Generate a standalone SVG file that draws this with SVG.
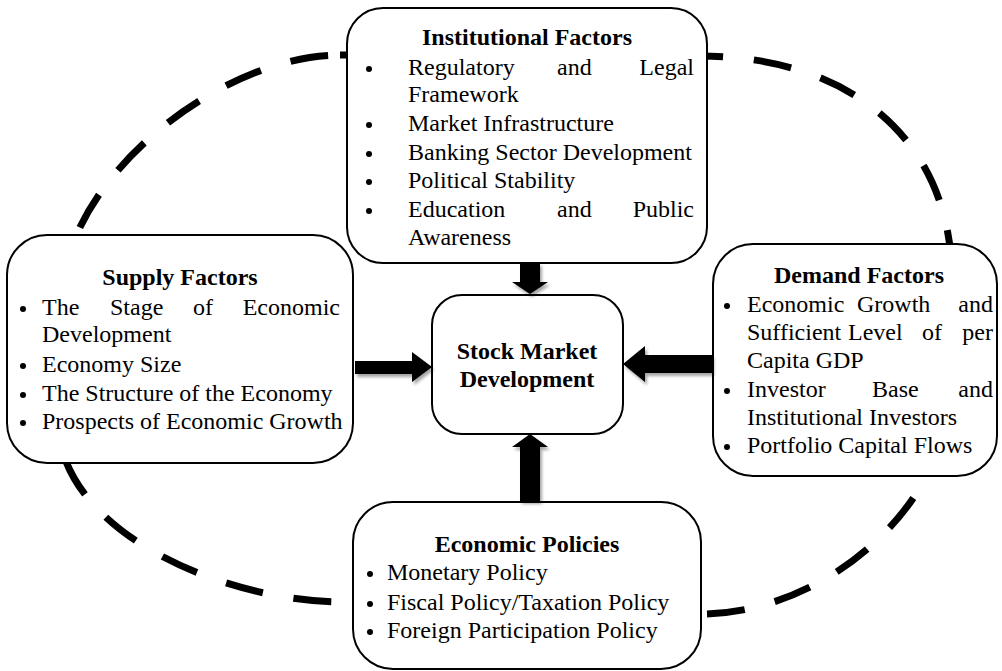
<svg xmlns="http://www.w3.org/2000/svg" width="1002" height="671" viewBox="0 0 1002 671">
<defs>
<filter id="sh" x="-30%" y="-30%" width="160%" height="160%"><feDropShadow dx="2" dy="3" stdDeviation="1.5" flood-color="#000" flood-opacity="0.35"/></filter>
<style>
.box{fill:#fff;stroke:#000;stroke-width:2}
.t{font-family:"Liberation Serif","Times New Roman",serif;font-size:24px;fill:#000}
.h{font-weight:bold;text-anchor:middle}
.e{text-anchor:end}
.dash{fill:none;stroke:#000;stroke-width:7;stroke-dasharray:38 31}
.arr{fill:#000;filter:url(#sh)}
.bl{fill:#000}
</style>
</defs>
<rect width="1002" height="671" fill="#fff"/>
<g id="ring">
<path class="dash" d="M 340,55 L 700,56 C 850,56 952,140 952,280 L 950,390 C 950,500 830,614 700,614 L 345,602 C 220,602 58,530 58,420 L 62,300 C 62,180 220,55 340,55 Z"/>
</g>
<g id="institutional">
<rect class="box" x="347" y="8" width="360" height="255" rx="36"/>
<text class="t h" x="527" y="45">Institutional Factors</text>
<circle class="bl" cx="369" cy="69" r="3"/>
<text class="t" x="408" y="75">Regulatory</text>
<text class="t" x="557" y="75">and</text>
<text class="t e" x="694" y="75">Legal</text>
<text class="t" x="408" y="102">Framework</text>
<circle class="bl" cx="369" cy="125" r="3"/>
<text class="t" x="408" y="131">Market Infrastructure</text>
<circle class="bl" cx="369" cy="154" r="3"/>
<text class="t" x="408" y="160">Banking Sector Development</text>
<circle class="bl" cx="369" cy="182" r="3"/>
<text class="t" x="408" y="188">Political Stability</text>
<circle class="bl" cx="369" cy="211" r="3"/>
<text class="t" x="408" y="217">Education</text>
<text class="t" x="557" y="217">and</text>
<text class="t e" x="694" y="217">Public</text>
<text class="t" x="408" y="245">Awareness</text>
</g>
<g id="supply">
<rect class="box" x="7" y="235" width="346" height="228" rx="40"/>
<text class="t h" x="180" y="285">Supply Factors</text>
<circle class="bl" cx="23" cy="309" r="3"/>
<text class="t" x="42" y="315">The</text>
<text class="t" x="110" y="315">Stage</text>
<text class="t" x="193" y="315">of</text>
<text class="t e" x="340" y="315">Economic</text>
<text class="t" x="42" y="342">Development</text>
<circle class="bl" cx="23" cy="366" r="3"/>
<text class="t" x="42" y="372">Economy Size</text>
<circle class="bl" cx="23" cy="395" r="3"/>
<text class="t" x="42" y="401">The Structure of the Economy</text>
<circle class="bl" cx="23" cy="423" r="3"/>
<text class="t" x="42" y="429">Prospects of Economic Growth</text>
</g>
<g id="demand">
<rect class="box" x="713" y="244" width="284" height="232" rx="40"/>
<text class="t h" x="859" y="283">Demand Factors</text>
<circle class="bl" cx="727" cy="306" r="3"/>
<text class="t" x="747" y="312">Economic</text>
<text class="t" x="857" y="312">Growth</text>
<text class="t e" x="993" y="312">and</text>
<text class="t" x="747" y="340">Sufficient</text>
<text class="t" x="848" y="340">Level</text>
<text class="t" x="922" y="340">of</text>
<text class="t e" x="993" y="340">per</text>
<text class="t" x="747" y="368">Capita GDP</text>
<circle class="bl" cx="727" cy="391" r="3"/>
<text class="t" x="747" y="397">Investor</text>
<text class="t" x="872" y="397">Base</text>
<text class="t e" x="993" y="397">and</text>
<text class="t" x="747" y="425">Institutional Investors</text>
<circle class="bl" cx="727" cy="447" r="3"/>
<text class="t" x="747" y="453">Portfolio Capital Flows</text>
</g>
<g id="policies">
<rect class="box" x="353" y="502" width="348" height="167" rx="40"/>
<text class="t h" x="527" y="552">Economic Policies</text>
<circle class="bl" cx="370" cy="574" r="3"/>
<text class="t" x="387" y="580">Monetary Policy</text>
<circle class="bl" cx="370" cy="604" r="3"/>
<text class="t" x="387" y="610">Fiscal Policy/Taxation Policy</text>
<circle class="bl" cx="370" cy="632" r="3"/>
<text class="t" x="387" y="638">Foreign Participation Policy</text>
</g>
<g id="stock-market">
<rect class="box" x="432" y="295" width="191" height="139" rx="30"/>
<text class="t h" x="527" y="359">Stock Market</text>
<text class="t h" x="527" y="387">Development</text>
</g>
<g id="connectors">
<polygon class="arr" points="520,263 540,263 540,282 548,282 530,294 512,282 520,282"/>
<polygon class="arr" points="355,361 412,361 412,352 432,367 412,382 412,374 355,374"/>
<polygon class="arr" points="712,355 645,355 645,346 623,364 645,382 645,373 712,373"/>
<polygon class="arr" points="520,501 540,501 540,447 548,447 530,434 512,447 520,447"/>
</g>
</svg>
